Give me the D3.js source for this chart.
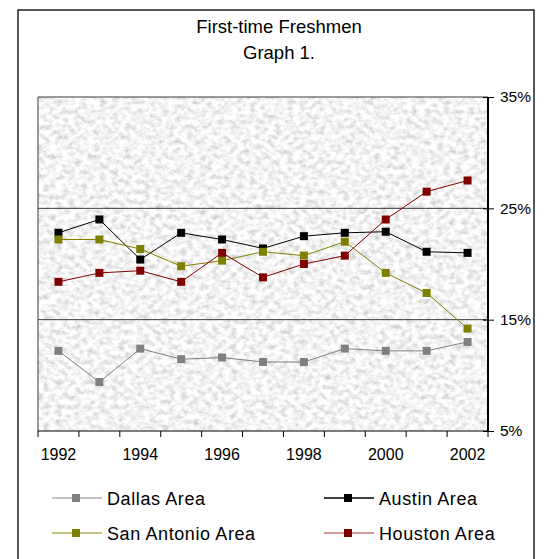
<!DOCTYPE html>
<html><head><meta charset="utf-8">
<script src="https://cdn.jsdelivr.net/npm/d3@7"></script>
<style>
html,body{margin:0;padding:0;background:#fff;}
svg{display:block;font-family:Arial,"Liberation Sans",sans-serif;}
</style></head>
<body><svg id="c" width="544" height="559"></svg>
<script>
const years = [1992,1993,1994,1995,1996,1997,1998,1999,2000,2001,2002];
const dallas     = [12.2, 9.4,12.4,11.45,11.6,11.2,11.2,12.4,12.2,12.2,13.0];
const austin     = [22.8,24.0,20.4,22.8,22.2,21.4,22.5,22.8,22.9,21.1,21.0];
const sanAntonio = [22.2,22.2,21.35,19.8,20.3,21.1,20.75,22.0,19.2,17.4,14.2];
const houston    = [18.4,19.2,19.4,18.4,21.0,18.8,20.0,20.75,24.0,26.5,27.5];
const yTicks = [5,15,25,35];
const titleLines = ["First-time Freshmen","Graph 1."];

const series = [
  {name:"Dallas Area", values:dallas, color:"#808080", legendLine:"#b0b0b0"},
  {name:"Austin Area", values:austin, color:"#000000", legendLine:"#000000"},
  {name:"San Antonio Area", values:sanAntonio, color:"#808000", legendLine:"#b0b060"},
  {name:"Houston Area", values:houston, color:"#800000", legendLine:"#c07878"}
];

const svg = d3.select("#c");
const L=38, R=488, T=97, B=431;

// texture filter
const defs = svg.append("defs");
const f = defs.append("filter").attr("id","granite").attr("x",0).attr("y",0).attr("width","100%").attr("height","100%");
f.append("feTurbulence").attr("type","fractalNoise").attr("baseFrequency","0.16 0.2").attr("numOctaves",3).attr("seed",7).attr("result","n");
f.append("feColorMatrix").attr("type","matrix")
 .attr("values","0.8 0 0 0 0.5  0.8 0 0 0 0.5  0.8 0 0 0 0.5  0 0 0 0 1");

// outer frame
svg.append("rect").attr("x",18).attr("y",10).attr("width",516).attr("height",570)
  .attr("fill","#fff").attr("stroke","#222").attr("stroke-width",1.5);

// title
svg.append("g").selectAll("text").data(titleLines).join("text")
  .attr("x",279).attr("y",(d,i)=>33+i*26).attr("text-anchor","middle")
  .attr("font-size",18.5).attr("fill","#000").text(d=>d);

const x = d3.scaleBand().domain(years).range([L,R]).padding(0);
const y = d3.scaleLinear().domain([5,35]).range([B,T]);

// plot area background
svg.append("rect").attr("x",L).attr("y",T).attr("width",R-L).attr("height",B-T)
  .attr("filter","url(#granite)").attr("fill","#e8e8e8");

// gridlines
svg.append("g").selectAll("line").data(yTicks.filter(v=>v>5)).join("line")
  .attr("x1",L).attr("x2",R).attr("y1",d=>y(d)).attr("y2",d=>y(d))
  .attr("stroke","#3a3a3a").attr("stroke-width",1);
// left border
svg.append("line").attr("x1",L).attr("x2",L).attr("y1",T).attr("y2",B).attr("stroke","#3a3a3a");

// x axis
const xg = svg.append("g").attr("transform",`translate(0,${B})`);
xg.append("line").attr("x1",L).attr("x2",R).attr("y1",0).attr("y2",0).attr("stroke","#000").attr("stroke-width",1.2);
const edges = years.map(d=>x(d)).concat([x(years[years.length-1])+x.bandwidth()]);
xg.selectAll("line.tk").data(edges).join("line").attr("class","tk")
  .attr("x1",d=>d).attr("x2",d=>d).attr("y1",0).attr("y2",6).attr("stroke","#000");
const xAxis = d3.axisBottom(x).tickSize(0).tickPadding(0).tickFormat(d=>d%2===0?String(d):"");
const xa = svg.append("g").attr("transform",`translate(0,${B})`).call(xAxis);
xa.select(".domain").remove();
xa.selectAll("text").attr("font-size",16).attr("font-family","Arial, 'Liberation Sans', sans-serif")
  .attr("fill","#000").attr("y",29).attr("dy",0);

// y axis (right)
const yAxis = d3.axisRight(y).tickValues(yTicks).tickSize(6).tickPadding(6).tickFormat(d=>d+"%");
const ya = svg.append("g").attr("transform",`translate(${R},0)`).call(yAxis);
ya.select(".domain").attr("stroke","#000").attr("stroke-width",2).attr("d",`M0,${T}V${B}`);
ya.selectAll(".tick line").attr("x1",-5).attr("x2",6).attr("stroke","#000");
ya.selectAll("text").attr("font-size",15.5).attr("font-family","Arial, 'Liberation Sans', sans-serif").attr("fill","#000");

// series
const line = d3.line().x((d,i)=>x(years[i])+x.bandwidth()/2).y(d=>y(d));
const sg = svg.append("g");
series.forEach(s=>{
  sg.append("path").attr("d",line(s.values)).attr("fill","none").attr("stroke",s.color).attr("stroke-width",1);
});
series.forEach(s=>{
  sg.append("g").selectAll("rect").data(s.values).join("rect")
    .attr("x",(d,i)=>x(years[i])+x.bandwidth()/2-4).attr("y",d=>y(d)-4)
    .attr("width",8).attr("height",8).attr("fill",s.color);
});

// legend
const legPos = [[52,498],[324,498],[52,533],[324,533]];
const lg = svg.append("g");
series.forEach((s,i)=>{
  const [lx,ly]=legPos[i];
  const g = lg.append("g").attr("transform",`translate(${lx},${ly})`);
  g.append("line").attr("x1",0).attr("x2",50).attr("y1",0).attr("y2",0).attr("stroke",s.legendLine).attr("stroke-width",1.5);
  g.append("rect").attr("x",20).attr("y",-4).attr("width",8).attr("height",8).attr("fill",s.color);
  g.append("text").attr("x",55).attr("y",6.5).attr("font-size",18).attr("letter-spacing","0.6px").attr("fill","#000").text(s.name);
});
</script></body></html>
